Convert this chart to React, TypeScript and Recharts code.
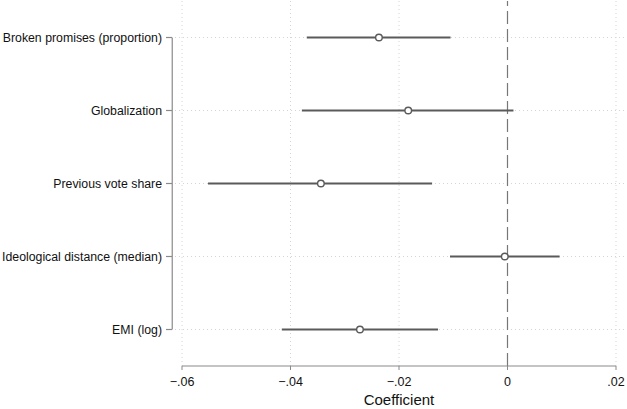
import {
  ComposedChart,
  Scatter,
  XAxis,
  YAxis,
  CartesianGrid,
  ReferenceLine,
} from "recharts";

const categories = [
  "Broken promises (proportion)",
  "Globalization",
  "Previous vote share",
  "Ideological distance (median)",
  "EMI (log)",
];
const coef = [-0.0237, -0.0183, -0.0344, -0.0005, -0.0272];
const lower = [-0.037, -0.0379, -0.0552, -0.0106, -0.0416];
const upper = [-0.0105, 0.0011, -0.0139, 0.0096, -0.0128];
const xTicks = [-0.06, -0.04, -0.02, 0, 0.02];

const data = categories.map((name, i) => ({ name, coef: coef[i] }));

const FONT = "'Liberation Sans', Arial, sans-serif";
const AXIS = "#8a8a8a";
const MARK = "#5a5a5a";
const GRID = "#d4d4d4";

const fmt = (v: number) =>
  v === 0 ? "0" : (v < 0 ? "\u2212" : "") + Math.abs(v).toFixed(2).replace(/^0/, "");

function CatTick(props: any) {
  const { x, y, payload } = props;
  return (
    <g>
      <line x1={x - 16} x2={x - 10} y1={y} y2={y} stroke={AXIS} strokeWidth={1.2} />
      <text
        x={x - 20}
        y={y}
        textAnchor="end"
        dominantBaseline="central"
        fontSize={12.3}
        fontFamily={FONT}
        fill="#111"
      >
        {payload.value}
      </text>
    </g>
  );
}

function Dot(props: any) {
  const { cx, cy } = props;
  return <circle cx={cx} cy={cy} r={3.3} fill="#fff" stroke={MARK} strokeWidth={1.4} />;
}

export default function App() {
  return (
    <div style={{ position: "absolute", left: 0, top: 0, background: "#fff" }}>
      <ComposedChart
        width={627}
        height={409}
        data={data}
        layout="vertical"
        margin={{ top: 1, right: 11, bottom: 0, left: 0 }}
      >
        <CartesianGrid
          horizontal={false}
          stroke={GRID}
          strokeDasharray="1 3"
          verticalValues={[-0.06, -0.04, -0.02, 0.02]}
        />
        {/* horizontal grid, running a little past the plot like Stata does */}
        {categories.map((c) => (
          <ReferenceLine
            key={"g" + c}
            segment={[
              { x: -0.0613, y: c },
              { x: 0.0217, y: c },
            ]}
            ifOverflow="visible"
            stroke={GRID}
            strokeDasharray="1 3"
          />
        ))}
        <ReferenceLine
          segment={[
            { x: -0.0618, y: categories[0] },
            { x: -0.0618, y: categories[categories.length - 1] },
          ]}
          ifOverflow="visible"
          stroke={AXIS}
          strokeWidth={1.2}
        />
        <ReferenceLine x={0} stroke="#777" strokeDasharray="13 5" strokeWidth={1.2} />
        {/* confidence intervals */}
        {categories.map((c, i) => (
          <ReferenceLine
            key={"ci" + c}
            segment={[
              { x: lower[i], y: c },
              { x: upper[i], y: c },
            ]}
            ifOverflow="visible"
            stroke={MARK}
            strokeWidth={1.8}
          />
        ))}
        <XAxis
          type="number"
          domain={[-0.06, 0.02]}
          ticks={xTicks}
          tickFormatter={fmt}
          height={43}
          stroke={AXIS}
          tickSize={4}
          tickMargin={7}
          tick={{ fill: "#111", fontSize: 12.5, fontFamily: FONT }}
          label={{
            value: "Coefficient",
            position: "insideBottom",
            offset: 4,
            fill: "#111",
            fontSize: 15,
            fontFamily: FONT,
          }}
        />
        <YAxis
          type="category"
          dataKey="name"
          scale="band"
          width={182}
          axisLine={false}
          tickLine={false}
          tickSize={0}
          tickMargin={0}
          tick={<CatTick />}
          interval={0}
        />
        <Scatter dataKey="coef" shape={<Dot />} isAnimationActive={false} />
      </ComposedChart>
    </div>
  );
}
